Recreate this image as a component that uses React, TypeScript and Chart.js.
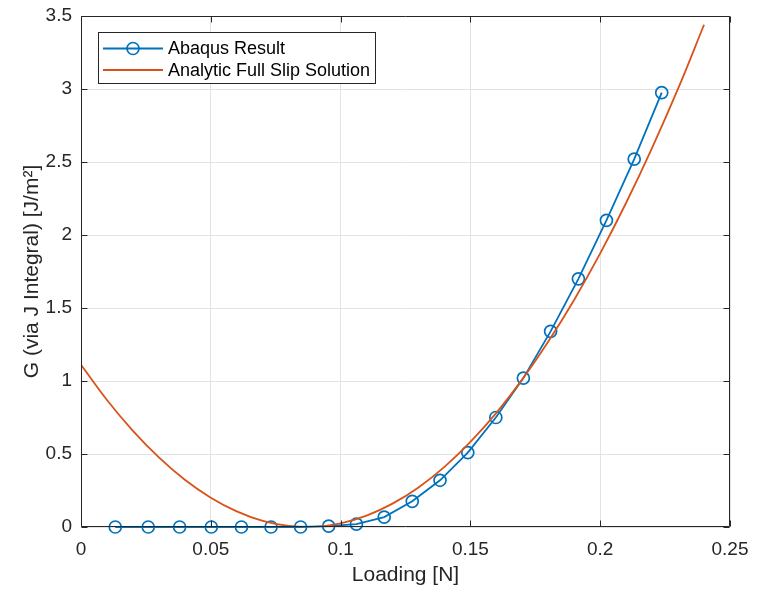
import React, { useEffect, useRef } from "react";
import { Chart, registerables } from "chart.js";

Chart.register(...registerables);

// Abaqus J-integral results
const abaqusLoad = [
  0.0132, 0.0259, 0.038, 0.0502, 0.0618, 0.0732, 0.0846, 0.0954, 0.1061, 0.1168,
  0.1276, 0.1383, 0.149, 0.1598, 0.1704, 0.1809, 0.1916, 0.2024, 0.2131, 0.2237,
];
const abaqusG = [
  0, 0, 0, 0, 0, 0, 0, 0.006, 0.02, 0.068,
  0.176, 0.32, 0.51, 0.75, 1.02, 1.34, 1.7, 2.1, 2.52, 2.975,
];

// Analytic full slip solution
const analyticLoad = [
  0, 0.01, 0.02, 0.03, 0.04, 0.05, 0.06, 0.07, 0.08, 0.09, 0.1, 0.11, 0.12,
  0.13, 0.14, 0.15, 0.16, 0.17, 0.18, 0.19, 0.2, 0.21, 0.22, 0.23, 0.24,
];
const analyticG = [
  1.111, 0.87, 0.659, 0.477, 0.324, 0.201, 0.107, 0.042, 0.007, 0.001, 0.025, 0.078, 0.16,
  0.271, 0.412, 0.583, 0.782, 1.011, 1.27, 1.557, 1.874, 2.221, 2.597, 3.002, 3.44,
];

const xTicks = [0, 0.05, 0.1, 0.15, 0.2, 0.25];
const yTicks = [0, 0.5, 1, 1.5, 2, 2.5, 3, 3.5];

const seriesLabels = ["Abaqus Result", "Analytic Full Slip Solution"];

const BLUE = "#0072BD";
const ORANGE = "#D95319";
const AXIS = "#262626";
const GRID = "#e3e3e3";
const FONT = "'Liberation Sans', Arial, Helvetica, sans-serif";

const fmt = (v: number) => String(parseFloat(Number(v).toFixed(3)));

// Box around the axes with inward tick marks, plus the in-plot legend
const framePlugin = {
  id: "matlabFrame",
  afterDatasetsDraw(chart: any) {
    const { ctx, chartArea, scales } = chart;
    const L = Math.round(chartArea.left) + 0.5;
    const R = Math.round(chartArea.right) - 0.5;
    const T = Math.round(chartArea.top) + 0.5;
    const B = Math.round(chartArea.bottom) - 0.5;
    const tl = 6;
    ctx.save();
    ctx.strokeStyle = AXIS;
    ctx.lineWidth = 1;
    ctx.beginPath();
    ctx.rect(L, T, R - L, B - T);
    for (const v of xTicks) {
      const x = Math.round(scales.x.getPixelForValue(v)) + 0.5;
      ctx.moveTo(x, B);
      ctx.lineTo(x, B - tl);
      ctx.moveTo(x, T);
      ctx.lineTo(x, T + tl);
    }
    for (const v of yTicks) {
      const y = Math.round(scales.y.getPixelForValue(v)) + 0.5;
      ctx.moveTo(L, y);
      ctx.lineTo(L + tl, y);
      ctx.moveTo(R, y);
      ctx.lineTo(R - tl, y);
    }
    ctx.stroke();
    ctx.restore();
  },
  afterDraw(chart: any) {
    const { ctx } = chart;
    const bx = 98.5, by = 32.5, bw = 277, bh = 51;
    ctx.save();
    ctx.fillStyle = "#ffffff";
    ctx.fillRect(bx, by, bw, bh);
    ctx.strokeStyle = AXIS;
    ctx.lineWidth = 1;
    ctx.strokeRect(bx, by, bw, bh);
    const rows = [48.5, 70];
    const colors = [BLUE, ORANGE];
    ctx.font = `18px ${FONT}`;
    ctx.textBaseline = "middle";
    ctx.textAlign = "left";
    chart.data.datasets.forEach((ds: any, i: number) => {
      const y = rows[i];
      ctx.strokeStyle = colors[i];
      ctx.lineWidth = 1.8;
      ctx.beginPath();
      ctx.moveTo(103, y);
      ctx.lineTo(163, y);
      ctx.stroke();
      if (ds.pointRadius > 0) {
        ctx.lineWidth = 1.7;
        ctx.beginPath();
        ctx.arc(133, y, 6, 0, Math.PI * 2);
        ctx.stroke();
      }
      ctx.fillStyle = "#000000";
      ctx.fillText(ds.label, 168, y + 1);
    });
    ctx.restore();
  },
};

export default function App() {
  const ref = useRef<HTMLCanvasElement>(null);

  useEffect(() => {
    const canvas = ref.current;
    if (!canvas) return;
    const tickFont = { family: FONT, size: 19 };
    const titleFont = { family: FONT, size: 21 };
    const chart = new Chart(canvas, {
      type: "scatter",
      data: {
        datasets: [
          {
            label: seriesLabels[0],
            data: abaqusLoad.map((x, i) => ({ x, y: abaqusG[i] })),
            showLine: true,
            borderColor: BLUE,
            backgroundColor: "rgba(0,0,0,0)",
            borderWidth: 1.8,
            pointRadius: 6,
            pointBorderWidth: 1.7,
            pointBorderColor: BLUE,
            pointBackgroundColor: "rgba(0,0,0,0)",
            tension: 0,
            clip: false,
            order: 1,
          },
          {
            label: seriesLabels[1],
            data: analyticLoad.map((x, i) => ({ x, y: analyticG[i] })),
            showLine: true,
            borderColor: ORANGE,
            backgroundColor: "rgba(0,0,0,0)",
            borderWidth: 1.8,
            pointRadius: 0,
            tension: 0.4,
            order: 0,
          },
        ],
      },
      options: {
        animation: false,
        responsive: false,
        devicePixelRatio: 1,
        layout: { padding: { top: 16, right: 30, left: 0, bottom: 0 } },
        plugins: {
          legend: { display: false },
          tooltip: { enabled: false },
        },
        scales: {
          x: {
            type: "linear",
            min: 0,
            max: 0.25,
            afterFit: (s: any) => {
              s.height = 62;
              s.paddingLeft = 0;
              s.paddingRight = 0;
            },
            afterBuildTicks: (s: any) => {
              s.ticks = xTicks.map((v) => ({ value: v }));
            },
            grid: { color: GRID, lineWidth: 1, drawTicks: false },
            border: { display: false },
            ticks: {
              color: AXIS,
              font: tickFont,
              padding: 11,
              maxRotation: 0,
              autoSkip: false,
              callback: (v: any) => fmt(v),
            },
            title: {
              display: true,
              text: "Loading [N]",
              color: AXIS,
              font: titleFont,
              padding: { top: 0, bottom: 1 },
            },
          },
          y: {
            type: "linear",
            min: 0,
            max: 3.5,
            afterFit: (s: any) => {
              s.width = 81;
              s.paddingTop = 0;
              s.paddingBottom = 0;
            },
            afterBuildTicks: (s: any) => {
              s.ticks = yTicks.map((v) => ({ value: v }));
            },
            grid: { color: GRID, lineWidth: 1, drawTicks: false },
            border: { display: false },
            ticks: {
              color: AXIS,
              font: tickFont,
              padding: 9,
              autoSkip: false,
              callback: (v: any) => fmt(v),
            },
            title: {
              display: true,
              text: "G (via J Integral) [J/m²]",
              color: AXIS,
              font: titleFont,
              padding: { top: 20, bottom: 0 },
            },
          },
        },
      } as any,
      plugins: [framePlugin],
    });
    return () => chart.destroy();
  }, []);

  return (
    <div
      style={{
        position: "absolute",
        left: 0,
        top: 0,
        width: 760,
        height: 589,
        background: "#ffffff",
      }}
    >
      <canvas ref={ref} width={760} height={589} style={{ display: "block" }} />
    </div>
  );
}
